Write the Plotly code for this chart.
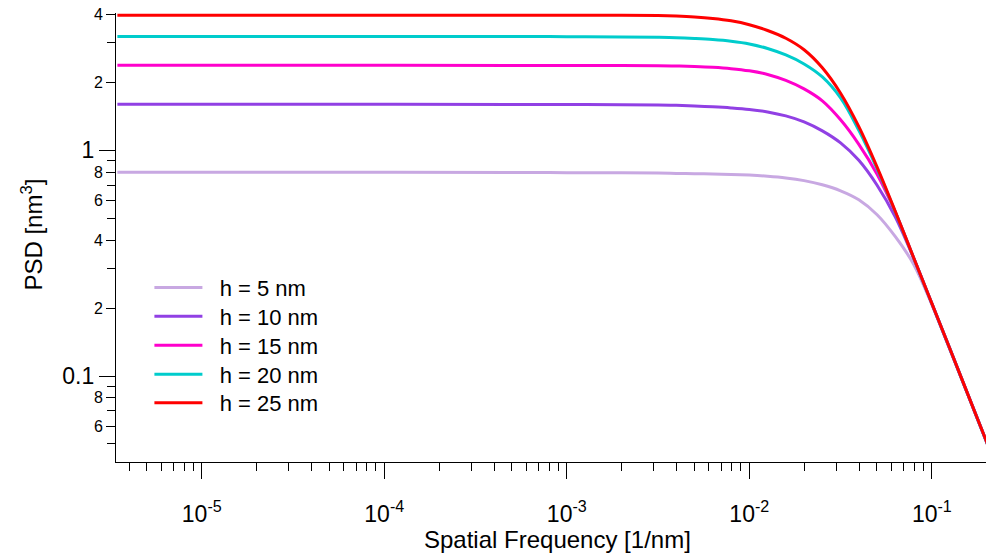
import plotly.graph_objects as go

# Spatial frequency grid [1/nm]
freq = [3.45e-6, 1e-5, 1e-4, 5e-4, 1e-3, 2e-3,
        0.00316, 0.00398, 0.00501, 0.00631, 0.00794, 0.01, 0.01259, 0.01585,
        0.01995, 0.02512, 0.03162, 0.03981, 0.05012, 0.0631, 0.07943, 0.1,
        0.1259, 0.1585, 0.1995, 0.2512]

# PSD [nm^3] for each film thickness h
psd_h5 = [0.80, 0.80, 0.80, 0.798, 0.796, 0.795,
          0.7928, 0.7903, 0.7879, 0.7854, 0.7823, 0.7767, 0.7680, 0.7548,
          0.7343, 0.7037, 0.6619, 0.6039, 0.5184, 0.4143, 0.3131, 0.2073,
          0.1303, 0.0819, 0.0511, 0.0319]
psd_h10 = [1.60, 1.60, 1.60, 1.598, 1.596, 1.593,
           1.588, 1.582, 1.572, 1.559, 1.542, 1.518, 1.480, 1.421,
           1.337, 1.220, 1.079, 0.903, 0.700, 0.5055, 0.3327, 0.2094,
           0.1312, 0.0818, 0.0510, 0.0318]
psd_h15 = [2.38, 2.38, 2.38, 2.378, 2.377, 2.376,
           2.373, 2.363, 2.351, 2.332, 2.301, 2.250, 2.169, 2.040,
           1.871, 1.656, 1.365, 1.063, 0.783, 0.5317, 0.3344, 0.2096,
           0.1312, 0.0818, 0.0510, 0.0318]
psd_h20 = [3.195, 3.195, 3.195, 3.192, 3.19, 3.182,
           3.169, 3.156, 3.130, 3.095, 3.042, 2.960, 2.827, 2.646,
           2.414, 2.114, 1.707, 1.226, 0.828, 0.5327, 0.3344, 0.2096,
           0.1312, 0.0818, 0.0510, 0.0318]
psd_h25 = [3.97, 3.97, 3.97, 3.97, 3.968, 3.965,
           3.956, 3.937, 3.902, 3.842, 3.749, 3.603, 3.396, 3.137,
           2.790, 2.322, 1.791, 1.273, 0.843, 0.5355, 0.3351, 0.2098,
           0.1313, 0.0819, 0.0511, 0.0319]

series_names = ["h = 5 nm", "h = 10 nm", "h = 15 nm", "h = 20 nm", "h = 25 nm"]
series_values = [psd_h5, psd_h10, psd_h15, psd_h20, psd_h25]
series_colors = ["#C8A8E2", "#9140E4", "#FF00CC", "#00CCCC", "#FF0000"]

# Axis ticks
x_major = [1e-5, 1e-4, 1e-3, 1e-2, 1e-1]
x_major_text = ["10<sup>-5</sup>", "10<sup>-4</sup>", "10<sup>-3</sup>",
                "10<sup>-2</sup>", "10<sup>-1</sup>"]
y_major = [1, 0.1]
y_major_text = ["1", "0.1"]
y_labeled = [4, 2, 0.8, 0.6, 0.4, 0.2, 0.08, 0.06]
y_labeled_text = ["4", "2", "8", "6", "4", "2", "8", "6"]

FONT = "Liberation Sans, Arial, sans-serif"
NBSP = "\u00a0"

x_minor = [m * 10.0 ** e for e in range(-6, 0) for m in range(2, 10)]
y_minor = [m * 10.0 ** e for e in range(-2, 1) for m in range(2, 10)]

x_range = [-5.4698, -0.7033]
y_range = [-1.381, 0.6085]

# one single-entry legend per curve so the rows can be spaced freely
legend_ids = ["legend", "legend2", "legend3", "legend4", "legend5"]
legend_rows_y = [0.435, 0.371, 0.3065, 0.2419, 0.1782]

fig = go.Figure()
for i, (name, vals, col) in enumerate(zip(series_names, series_values, series_colors)):
    fig.add_trace(go.Scatter(
        x=freq, y=vals, mode="lines", name=NBSP * 2 + name,
        line=dict(color=col, width=3, shape="spline", smoothing=1.0),
        legend=legend_ids[i],
        # the top curve lives on the overlaid axis that carries the minor labels
        yaxis="y2" if i == len(series_names) - 1 else "y",
    ))

axis_common = dict(showgrid=False, zeroline=False, color="black",
                   ticks="outside", tickcolor="black", tickwidth=1.3)

legend_layout = {}
for lid, ly in zip(legend_ids, legend_rows_y):
    legend_layout[lid] = dict(
        x=0.0384, y=ly, xanchor="left", yanchor="top",
        bgcolor="rgba(0,0,0,0)", borderwidth=0,
        font=dict(size=22, family=FONT, color="black"),
        itemwidth=48,
    )

fig.update_layout(
    width=986, height=558, autosize=False,
    margin=dict(l=116, r=0, t=13, b=96),
    paper_bgcolor="white", plot_bgcolor="white",
    font=dict(family=FONT, color="black"),
    xaxis=dict(
        type="log", range=x_range, **axis_common,
        showline=True, linecolor="black", linewidth=1.3,
        tickmode="array", tickvals=x_major, ticktext=x_major_text,
        ticklen=16, tickfont=dict(size=23, family=FONT, color="black"),
        ticklabelstandoff=15,
        minor=dict(tickmode="array", tickvals=x_minor, ticks="outside",
                   ticklen=8, tickcolor="black", tickwidth=1.3),
    ),
    yaxis=dict(
        type="log", range=y_range, **axis_common,
        showline=True, linecolor="black", linewidth=1.3,
        tickmode="array", tickvals=y_major, ticktext=y_major_text,
        ticklen=16, tickfont=dict(size=23, family=FONT, color="black"),
        minor=dict(tickmode="array", tickvals=y_minor, ticks="outside",
                   ticklen=8, tickcolor="black", tickwidth=1.3),
    ),
    yaxis2=dict(
        type="log", range=y_range, overlaying="y", anchor="x", side="left",
        showgrid=False, zeroline=False, showline=False,
        ticks="outside", tickcolor="black", tickwidth=1.3, ticklen=9,
        tickmode="array", tickvals=y_labeled, ticktext=y_labeled_text,
        tickfont=dict(size=16, family=FONT, color="black"),
    ),
    showlegend=True,
    annotations=[
        dict(text="Spatial Frequency [1/nm]", xref="paper", yref="paper",
             x=0.507, y=-0.1715, xanchor="center", yanchor="middle",
             showarrow=False, font=dict(size=24, family=FONT, color="black")),
        dict(text="PSD [nm<sup>3</sup>]", xref="paper", yref="paper",
             x=-0.097, y=0.5056, xanchor="center", yanchor="middle",
             textangle=-90, showarrow=False,
             font=dict(size=24, family=FONT, color="black")),
    ],
    **legend_layout,
)

fig.write_html("out.html")
